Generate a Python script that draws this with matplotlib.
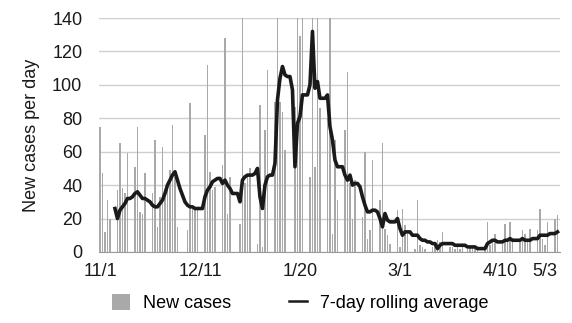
import matplotlib
matplotlib.use('Agg')
import matplotlib.pyplot as plt
from matplotlib.patches import Patch
from matplotlib.lines import Line2D

plt.rcParams['font.family'] = ['Liberation Sans', 'DejaVu Sans']

# daily new cases, day 0 = 11/1
new_cases = [
    75, 47, 12, 31, 20, 0, 0, 37, 65, 38,
    35, 59, 0, 0, 51, 75, 24, 23, 47, 0,
    0, 35, 67, 15, 33, 63, 33, 39, 49, 76,
    45, 15, 0, 0, 0, 13, 89, 26, 27, 25,
    0, 0, 70, 112, 48, 37, 39, 0, 0, 52,
    128, 23, 45, 0, 0, 0, 17, 145, 41, 45,
    50, 0, 0, 5, 88, 3, 73, 109, 0, 0,
    90, 150, 90, 84, 61, 0, 0, 0, 87, 145,
    129, 145, 0, 0, 45, 150, 51, 145, 86, 0,
    0, 80, 145, 11, 67, 31, 0, 0, 73, 108,
    41, 20, 43, 0, 0, 21, 60, 8, 13, 55,
    0, 0, 31, 65, 14, 10, 5, 0, 0, 25,
    3, 26, 16, 11, 0, 0, 2, 31, 4, 3,
    2, 0, 0, 3, 4, 7, 6, 12, 0, 0,
    3, 3, 2, 3, 2, 4, 0, 2, 3, 3,
    2, 2, 0, 0, 3, 18, 4, 8, 11, 0,
    0, 5, 17, 6, 18, 7, 0, 0, 7, 13,
    11, 6, 14, 0, 0, 13, 26, 8, 4, 18,
    0, 0, 20, 22,
]

# 7-day rolling average, starts on day 6
avg_start = 6
rolling_avg = [
    26, 20, 25, 27, 29, 32, 32, 33, 35, 36,
    34, 32, 32, 31, 30, 28, 27, 27, 29, 31,
    35, 40, 43, 46, 48, 43, 38, 34, 30, 28,
    27, 27, 26, 26, 26, 26, 33, 37, 39, 42,
    43, 44, 44, 41, 43, 40, 38, 35, 35, 35,
    30, 43, 45, 46, 46, 46, 47, 50, 33, 26,
    40, 45, 46, 46, 53, 91, 104, 111, 106, 105,
    105, 97, 51, 77, 81, 94, 94, 94, 100, 132,
    98, 102, 92, 92, 92, 94, 75, 67, 55, 51,
    51, 51, 46, 43, 46, 40, 41, 41, 39, 33,
    28, 24, 24, 25, 25, 24, 20, 15, 23, 19,
    18, 18, 18, 20, 14, 10, 12, 12, 12, 10,
    10, 10, 8, 7, 7, 6, 6, 5, 5, 2,
    4, 5, 5, 5, 5, 5, 4, 4, 4, 4,
    4, 3, 3, 3, 3, 2, 2, 2, 2, 5,
    6, 7, 7, 6, 6, 6, 7, 7, 8, 7,
    7, 7, 7, 8, 7, 7, 7, 8, 8, 8,
    10, 10, 10, 10, 11, 11, 11, 12,
]

tick_days = [0, 40, 80, 120, 160, 183]
tick_labels = ['11/1', '12/11', '1/20', '3/1', '4/10', '5/3']

fig = plt.figure(figsize=(5.72, 3.23), dpi=100)
ax = fig.add_axes([0.173, 0.22, 0.806, 0.724])

days = list(range(len(new_cases)))
ax.bar(days, new_cases, width=0.45, color='#a9a9a9', zorder=2)
avg_days = list(range(avg_start, avg_start + len(rolling_avg)))
ax.plot(avg_days, rolling_avg, color='#1a1a1a', lw=2.6, zorder=3,
        solid_joinstyle='round')

ax.set_ylim(0, 140)
ax.set_xlim(-0.4, 184)
ax.set_yticks(range(0, 141, 20))
ax.yaxis.grid(True, color='#cfcfcf', lw=1)
ax.set_axisbelow(True)
for s in ['top', 'right', 'left']:
    ax.spines[s].set_visible(False)
ax.spines['bottom'].set_color('#9a9a9a')
ax.tick_params(axis='y', length=0, pad=12, labelsize=13, colors='#1a1a1a')
ax.tick_params(axis='x', length=0, pad=8, labelsize=13, colors='#1a1a1a')
ax.set_xticks(tick_days)
ax.set_xticklabels(tick_labels)
ax.get_xticklabels()[-1].set_horizontalalignment('right')
ax.set_ylabel('New cases per day', fontsize=13, color='#1a1a1a', labelpad=9)

handles = [Patch(facecolor='#a9a9a9', edgecolor='none'),
           Line2D([0], [0], color='#1a1a1a', lw=1.8)]
fig.legend(handles, ['New cases', '7-day rolling average'], loc='center',
           bbox_to_anchor=(0.525, 0.062), ncol=2, frameon=False,
           fontsize=13, handlelength=1.0, handleheight=1.0,
           handletextpad=0.7, columnspacing=3.2)

fig.savefig('out.png', dpi=100)
